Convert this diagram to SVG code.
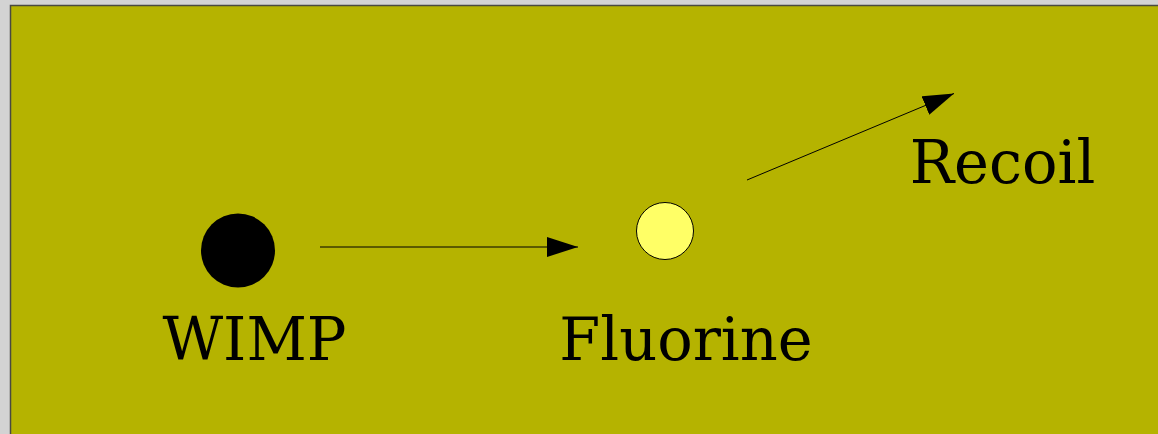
<svg xmlns="http://www.w3.org/2000/svg" width="1158" height="434" viewBox="0 0 1158 434">
<style>
.lbl{font-family:"DejaVu Serif",serif;font-size:59px;fill:#000}
.conn{stroke:#000;stroke-width:1;fill:none}
</style>
<defs>
<marker id="ah" markerUnits="userSpaceOnUse" markerWidth="32" markerHeight="20" refX="31" refY="10" orient="auto">
<path d="M0,0 L31,10 L0,20 Z" fill="#000"/>
</marker>
</defs>
<rect x="0" y="0" width="1158" height="434" fill="#d3d3d3"/>
<rect x="10.5" y="5.5" width="1160" height="440" fill="#b5b300" stroke="#4a4a40" stroke-width="1.5"/>
<g id="wimp">
<circle cx="238" cy="250.5" r="37" fill="#000"/>
<text class="lbl" x="254.5" y="360" text-anchor="middle">WIMP</text>
</g>
<g id="fluorine">
<circle cx="665" cy="231" r="28.5" fill="#ffff66" stroke="#000" stroke-width="1"/>
<text class="lbl" x="686" y="360" text-anchor="middle">Fluorine</text>
</g>
<g id="recoil">
<text class="lbl" x="1002.5" y="183" text-anchor="middle">Recoil</text>
</g>
<g id="connectors">
<line class="conn" x1="320" y1="247" x2="578" y2="247" marker-end="url(#ah)"/>
<line class="conn" x1="747" y1="180" x2="954" y2="93.5" marker-end="url(#ah)"/>
</g>
</svg>
